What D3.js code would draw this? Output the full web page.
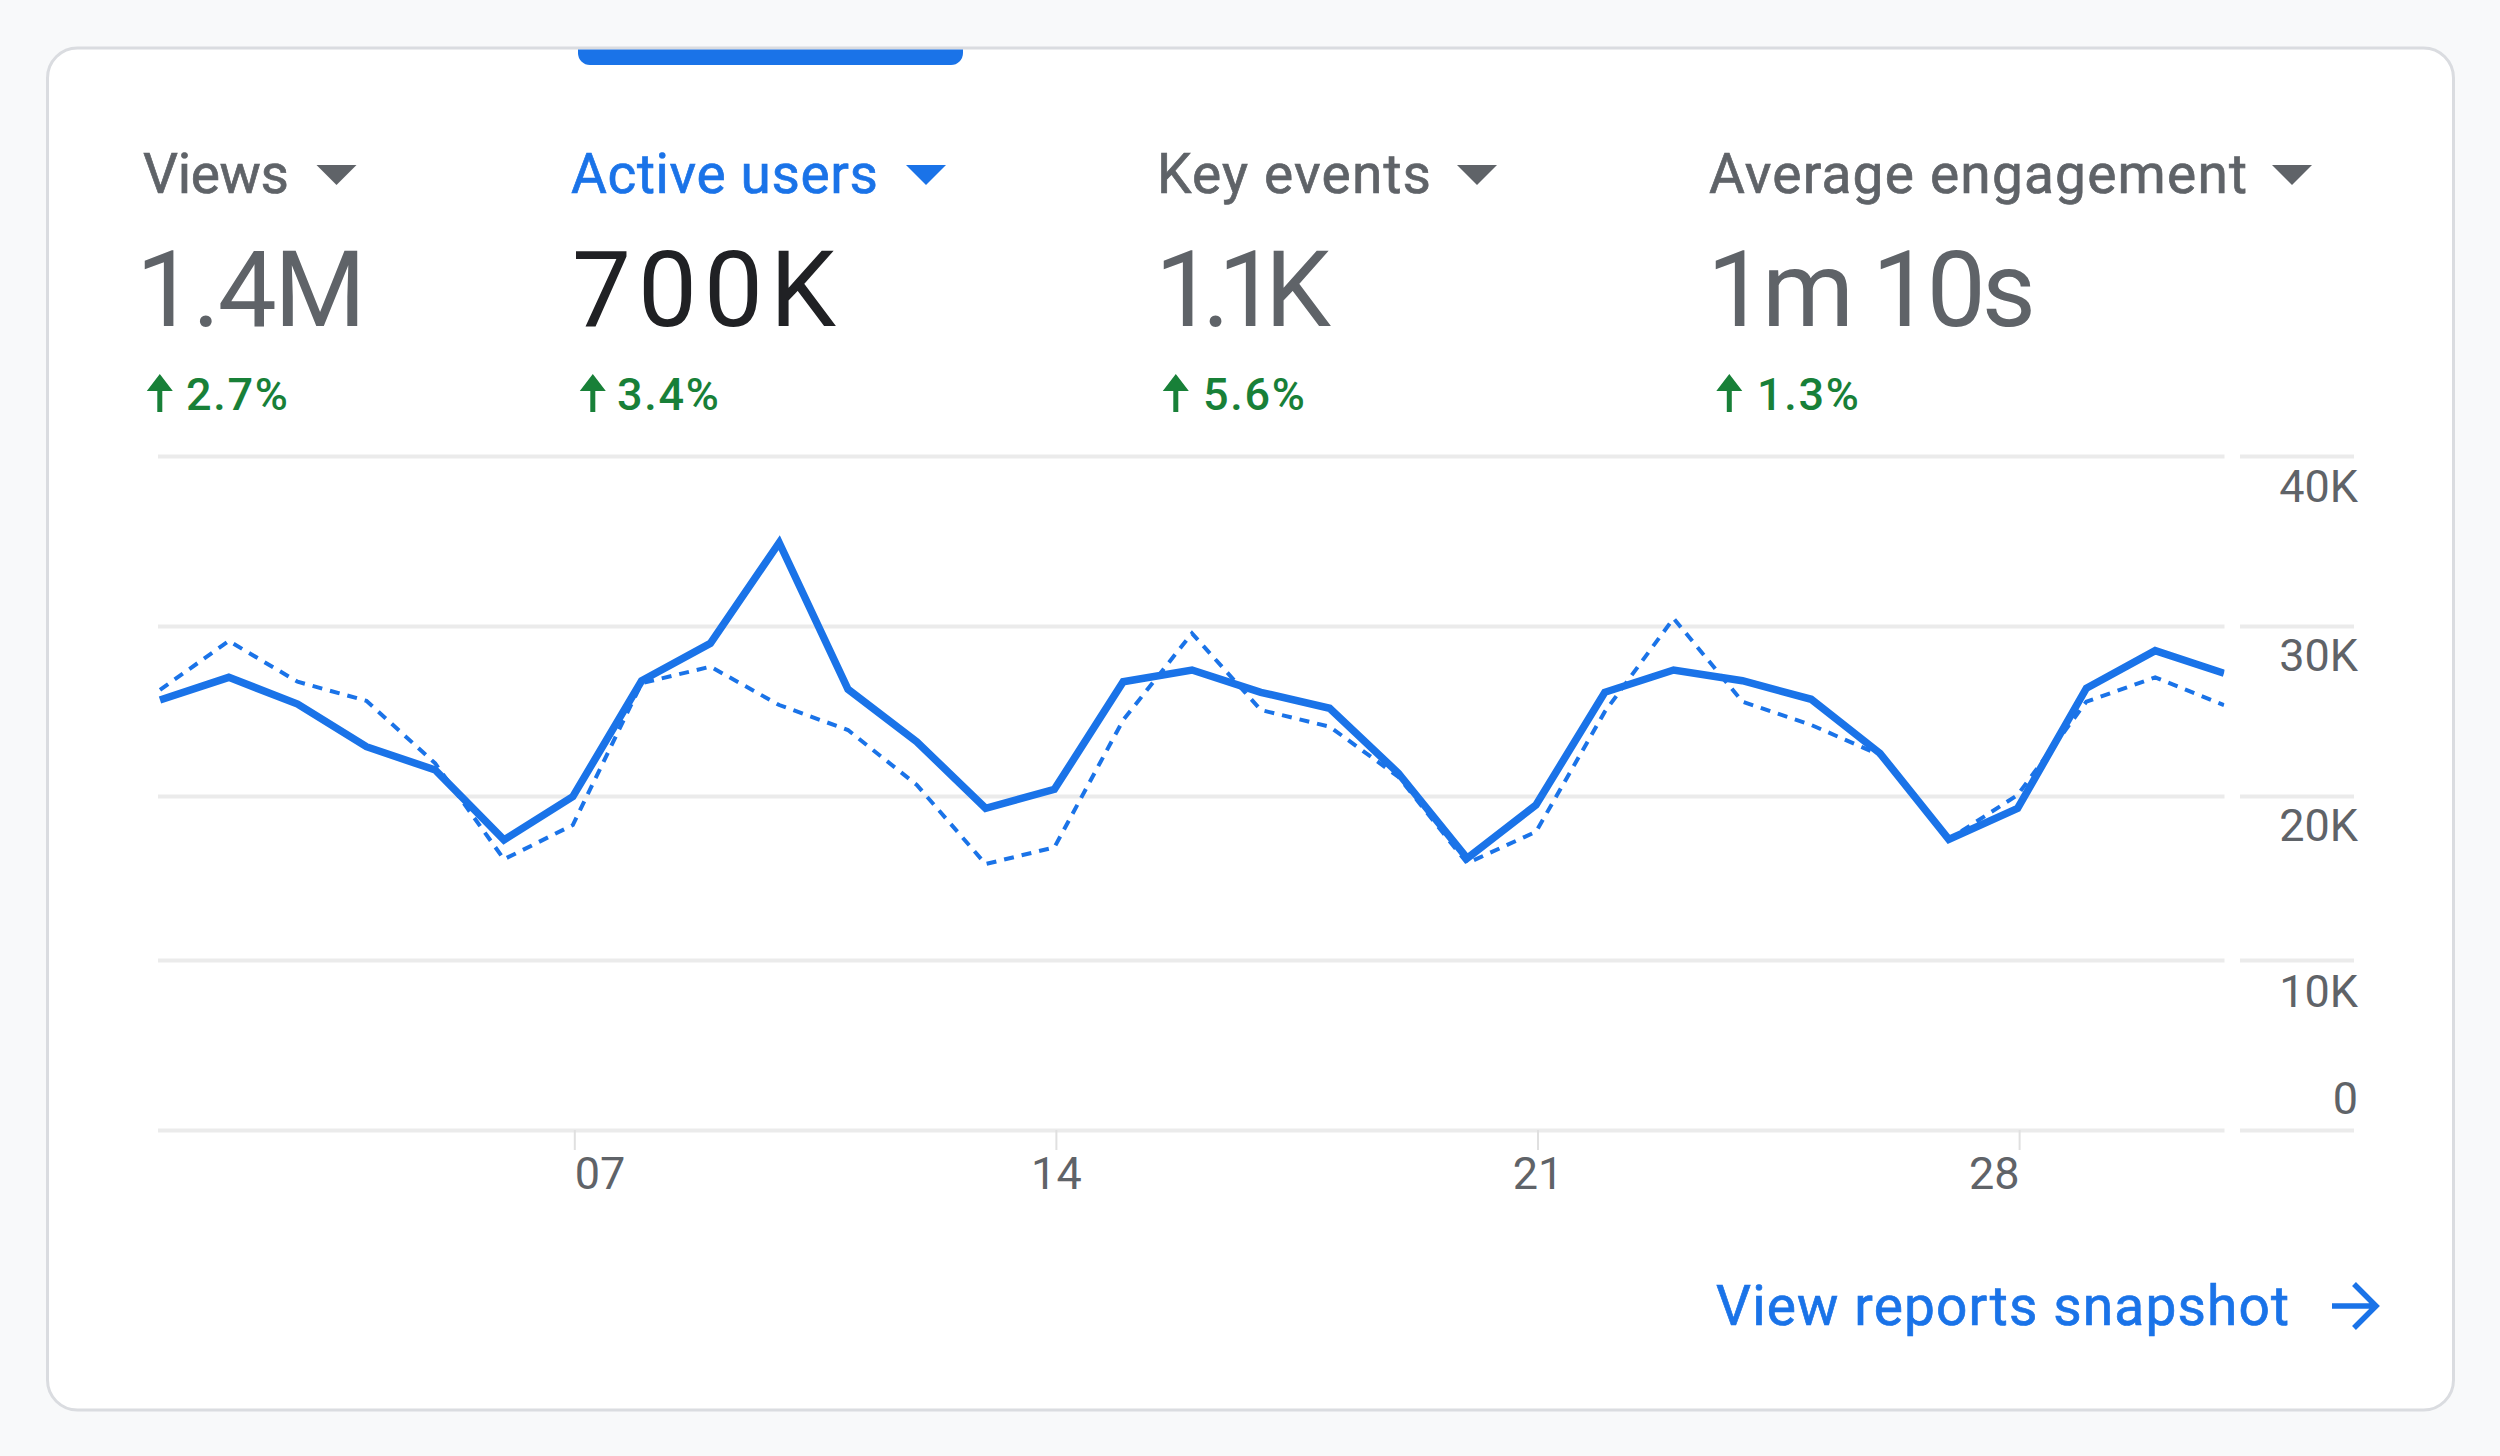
<!DOCTYPE html>
<html><head><meta charset="utf-8">
<script src="https://cdn.jsdelivr.net/npm/d3@7"></script>
<style>
html,body{margin:0;padding:0;background:#f8f9fa;}
svg{display:block;font-family:Roboto,sans-serif;}
.axis path.domain{display:none;}
</style></head><body>
<svg id="c" width="2500" height="1456"></svg>
<script>
// ---- data ----
const metricNames  = ["Views","Active users","Key events","Average engagement"];
const metricValues = ["1.4M","700K","1.1K","1m 10s"];
const metricDeltas = ["2.7%","3.4%","5.6%","1.3%"];
const selectedMetric = "Active users";
const days = d3.range(1,32);
const currentPeriod = [25.65,26.98,25.41,22.9,21.53,17.32,19.96,26.78,28.98,34.9,26.28,23.19,19.25,20.39,26.72,27.41,26.1,25.16,21.34,16.2,19.45,26.1,27.41,26.78,25.69,22.51,17.36,19.25,26.34,28.55,27.22];
const previousPeriod = [26.24,29.12,26.72,25.6,21.92,16.14,18.23,26.63,27.61,25.35,23.88,20.65,15.85,16.87,24.47,29.57,25.06,24.08,21.13,15.9,17.82,24.96,30.45,25.55,24.18,22.41,17.36,20.06,25.55,26.98,25.35];
const yTicks = [0,10,20,30,40];
const xTicks = [7,14,21,28];
const linkLabel = "View reports snapshot";

// ---- layout ----
const metricX = [143,571,1157,1709];
const headW = [146,307,274,538];
const caretX = [316.5,906,1457,2272];
const valueX = [136,572,1155,1707];
const valueW = [230,264,176,329];
const deltaX = [186,617,1203,1757];
const arrowX = [147,580,1163,1716.5];
const yLabelDy = {0:-17,10:46.5,20:44,30:44.5,40:45};
const BLUE="#1a73e8", GREY="#5f6368", GREEN="#188038";

const svg = d3.select("#c");
svg.append("rect").attr("width",2500).attr("height",1456).attr("fill","#f8f9fa");
svg.append("rect").attr("x",47.5).attr("y",48).attr("width",2406).attr("height",1362)
   .attr("rx",30).attr("fill","#fff").attr("stroke","#dadce0").attr("stroke-width",3);
// tab
svg.append("path").attr("d","M578,49.5H963V53a12,12 0 0 1 -12,12H590a12,12 0 0 1 -12,-12Z").attr("fill",BLUE);

// KPI
const k = svg.append("g").selectAll("g").data(metricNames).join("g");
k.append("text").attr("x",(d,i)=>metricX[i]).attr("y",192.5).attr("font-size",55).attr("font-weight",400)
  .attr("stroke-width",0.7).attr("stroke",d=>d===selectedMetric?BLUE:GREY)
  .attr("textLength",(d,i)=>headW[i]).attr("lengthAdjust","spacing")
  .attr("fill",d=>d===selectedMetric?BLUE:GREY).text(d=>d);
k.append("path").attr("d",(d,i)=>`M${caretX[i]},165h40l-20,20Z`).attr("fill",d=>d===selectedMetric?BLUE:GREY);
k.append("text").attr("x",(d,i)=>valueX[i]).attr("y",326).attr("font-size",105).attr("font-weight",400)
  .attr("textLength",(d,i)=>valueW[i]).attr("lengthAdjust","spacing")
  .attr("fill",d=>d===selectedMetric?"#202124":GREY).text((d,i)=>metricValues[i]);
k.append("path").attr("d",(d,i)=>{const x=arrowX[i]+12.8;return `M${x},374l13,17h-10.5v21h-5v-21h-10.5Z`;}).attr("fill",GREEN);
k.append("text").attr("x",(d,i)=>deltaX[i]).attr("y",410).attr("font-size",45).attr("font-weight",500)
  .attr("fill",GREEN).attr("textLength",102).attr("lengthAdjust","spacing").text((d,i)=>metricDeltas[i]);

// scales
const x = d3.scaleLinear().domain([1,31]).range([160,2224]);
const y = d3.scaleLinear().domain(yTicks).range([1130,960,796,626,456]);

// grid
svg.append("g").attr("class","axis").attr("transform","translate(158,0)")
  .call(d3.axisRight(y).tickValues(yTicks).tickSize(2066.5).tickFormat(""));
svg.append("g").attr("class","axis").attr("transform","translate(2240,0)")
  .call(d3.axisRight(y).tickValues(yTicks).tickSize(114).tickFormat(""));
svg.selectAll(".axis .tick line").attr("stroke","#ebebeb").attr("stroke-width",4);

// y labels
const yLab = svg.append("g").attr("class","axis").attr("transform","translate(2358,0)")
  .call(d3.axisLeft(y).tickValues(yTicks).tickSize(0).tickPadding(0).tickFormat(d=>d?d+"K":"0"));
yLab.selectAll("text").attr("font-family","Roboto").attr("font-size",45).attr("fill",GREY).attr("dy",0)
  .attr("y",d=>yLabelDy[d]);

// x axis
const anchors = {7:"start",14:"middle",21:"middle",28:"end"};
const xAx = svg.append("g").attr("class","axis").attr("transform","translate(1.5,1130)")
  .call(d3.axisBottom(x).tickValues(xTicks).tickSize(20).tickPadding(0).tickFormat(d=>String(d).padStart(2,"0")));
xAx.selectAll("line").attr("stroke","#e0e0e0").attr("stroke-width",2);
xAx.selectAll("text").attr("font-family","Roboto").attr("font-size",45).attr("fill",GREY)
  .attr("dy",0).attr("y",58.5).attr("text-anchor",d=>anchors[d]);

// lines
svg.append("clipPath").attr("id","pl").append("rect").attr("x",158).attr("y",400).attr("width",2066.5).attr("height",760);
const line = d3.line().x((d,i)=>x(days[i])).y(d=>y(d));
const g = svg.append("g").attr("clip-path","url(#pl)");
g.append("path").datum(previousPeriod).attr("d",line).attr("fill","none").attr("stroke",BLUE)
  .attr("stroke-width",4).attr("stroke-dasharray","10,8");
g.append("path").datum(currentPeriod).attr("d",line).attr("fill","none").attr("stroke",BLUE)
  .attr("stroke-width",7.5);

// link
svg.append("text").attr("x",1716).attr("y",1325).attr("font-size",55).attr("font-weight",400)
  .attr("stroke",BLUE).attr("stroke-width",0.7).attr("fill",BLUE)
  .attr("textLength",573).attr("lengthAdjust","spacing").text(linkLabel);
svg.append("path").attr("d","M2332,1306H2375M2354,1284L2376,1306L2354,1328").attr("fill","none")
  .attr("stroke",BLUE).attr("stroke-width",5.5);
</script></body></html>
